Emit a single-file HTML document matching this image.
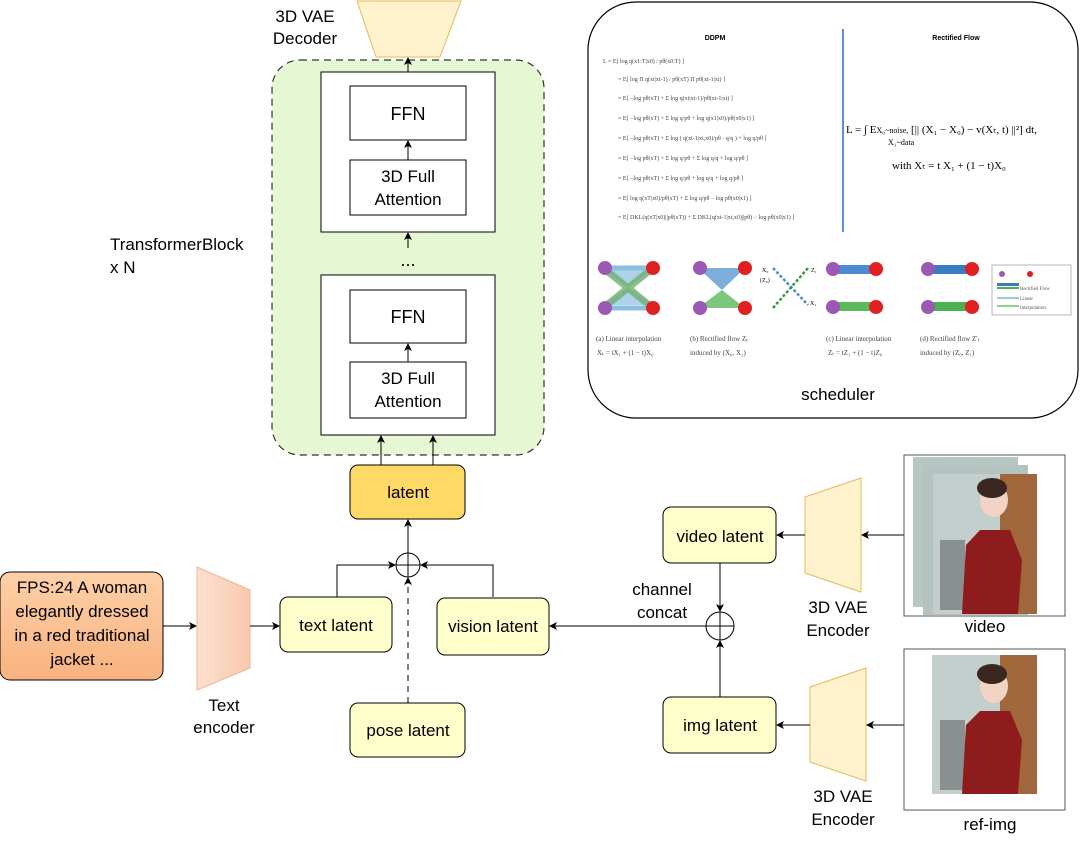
<!DOCTYPE html>
<html><head><meta charset="utf-8"><style>
html,body{margin:0;padding:0;background:#fff;}
svg text{font-family:"Liberation Sans",Arial,sans-serif;}
svg .serif text, svg text.serif{font-family:"Liberation Serif",serif;}
</style></head><body>
<svg width="1080" height="839" viewBox="0 0 1080 839" xmlns="http://www.w3.org/2000/svg">
<defs>
<marker id="a" markerWidth="8" markerHeight="8" refX="7" refY="4" orient="auto" markerUnits="userSpaceOnUse"><path d="M0,0 L8,4 L0,8 L2,4z" fill="#000"/></marker>
<linearGradient id="fps" x1="0" y1="0" x2="0" y2="1"><stop offset="0" stop-color="#FFD0A8"/><stop offset="1" stop-color="#F8B27F"/></linearGradient>
<linearGradient id="te" x1="0" y1="0" x2="1" y2="0"><stop offset="0" stop-color="#FCE0D0"/><stop offset="1" stop-color="#F9C9AE"/></linearGradient>
</defs>

<!-- decoder -->
<polygon points="357,1 461,1 440,57 376,57" fill="#FFF2CC" stroke="#E6B95A" stroke-width="1"/>
<text x="305" y="22" font-size="17" text-anchor="middle">3D VAE</text>
<text x="305" y="44" font-size="17" text-anchor="middle">Decoder</text>

<!-- green container -->
<rect x="272" y="60" width="272" height="395" rx="28" fill="#E6F7D4" stroke="#333" stroke-dasharray="7,5" stroke-width="1.2"/>
<rect x="321" y="72" width="174" height="160" fill="#fff" stroke="#000"/>
<rect x="350" y="86" width="116" height="54" fill="#fff" stroke="#000"/>
<text x="408" y="120" font-size="18" text-anchor="middle">FFN</text>
<rect x="350" y="160" width="116" height="55" fill="#fff" stroke="#000"/>
<text x="408" y="182" font-size="17" text-anchor="middle">3D Full</text>
<text x="408" y="205" font-size="17" text-anchor="middle">Attention</text>
<line x1="408" y1="160" x2="408" y2="141" stroke="#000" marker-end="url(#a)"/>
<text x="408" y="266" font-size="18" text-anchor="middle">...</text>
<line x1="408" y1="248" x2="408" y2="233" stroke="#000" marker-end="url(#a)"/>
<line x1="408" y1="72" x2="408" y2="58" stroke="#000" marker-end="url(#a)"/>
<rect x="321" y="275" width="174" height="160" fill="#fff" stroke="#000"/>
<rect x="350" y="290" width="116" height="53" fill="#fff" stroke="#000"/>
<text x="408" y="323" font-size="18" text-anchor="middle">FFN</text>
<rect x="350" y="362" width="116" height="56" fill="#fff" stroke="#000"/>
<text x="408" y="384" font-size="17" text-anchor="middle">3D Full</text>
<text x="408" y="407" font-size="17" text-anchor="middle">Attention</text>
<line x1="408" y1="362" x2="408" y2="344" stroke="#000" marker-end="url(#a)"/>
<text x="110" y="250" font-size="17">TransformerBlock</text>
<text x="110" y="273" font-size="17">x N</text>

<!-- latent -->
<line x1="381" y1="465" x2="381" y2="436" stroke="#000" marker-end="url(#a)"/>
<line x1="433" y1="465" x2="433" y2="436" stroke="#000" marker-end="url(#a)"/>
<rect x="350" y="465" width="115" height="54" rx="8" fill="#FFD966" stroke="#000"/>
<text x="408" y="498" font-size="17" text-anchor="middle">latent</text>
<line x1="408" y1="553" x2="408" y2="520" stroke="#000" marker-end="url(#a)"/>
<circle cx="408" cy="565" r="12" fill="#fff" stroke="#000"/>
<line x1="396" y1="565" x2="420" y2="565" stroke="#000"/>
<line x1="408" y1="553" x2="408" y2="577" stroke="#000"/>
<polyline points="337,597 337,565 395,565" fill="none" stroke="#000" marker-end="url(#a)"/>
<polyline points="493,597 493,565 421,565" fill="none" stroke="#000" marker-end="url(#a)"/>
<line x1="408" y1="703" x2="408" y2="578" stroke="#000" stroke-dasharray="6,5" marker-end="url(#a)"/>

<rect x="280" y="597" width="112" height="55" rx="8" fill="#FFFFCC" stroke="#000"/>
<text x="336" y="631" font-size="17" text-anchor="middle">text latent</text>
<rect x="437" y="598" width="112" height="57" rx="8" fill="#FFFFCC" stroke="#000"/>
<text x="493" y="632" font-size="17" text-anchor="middle">vision latent</text>
<rect x="350" y="703" width="115" height="54" rx="8" fill="#FFFFCC" stroke="#000"/>
<text x="408" y="736" font-size="17" text-anchor="middle">pose latent</text>

<!-- FPS -->
<rect x="0" y="572" width="163" height="108" rx="10" fill="url(#fps)" stroke="#000"/>
<text x="82" y="593" font-size="17" text-anchor="middle">FPS:24  A woman</text>
<text x="82" y="617" font-size="17" text-anchor="middle">elegantly dressed</text>
<text x="82" y="641" font-size="17" text-anchor="middle">in a red traditional</text>
<text x="82" y="665" font-size="17" text-anchor="middle">jacket ...</text>
<line x1="163" y1="626" x2="196" y2="626" stroke="#000" marker-end="url(#a)"/>
<polygon points="197,567 250,590 250,668 197,690" fill="url(#te)" stroke="#F2B48E"/>
<line x1="250" y1="626" x2="279" y2="626" stroke="#000" marker-end="url(#a)"/>
<text x="224" y="711" font-size="17" text-anchor="middle">Text</text>
<text x="224" y="733" font-size="17" text-anchor="middle">encoder</text>

<!-- right side -->
<rect x="663" y="507" width="113" height="56" rx="8" fill="#FFFFCC" stroke="#000"/>
<text x="720" y="542" font-size="17" text-anchor="middle">video latent</text>
<rect x="663" y="697" width="113" height="56" rx="8" fill="#FFFFCC" stroke="#000"/>
<text x="720" y="731" font-size="17" text-anchor="middle">img latent</text>
<line x1="720" y1="563" x2="720" y2="611" stroke="#000" marker-end="url(#a)"/>
<line x1="720" y1="697" x2="720" y2="641" stroke="#000" marker-end="url(#a)"/>
<circle cx="720" cy="626" r="14" fill="#fff" stroke="#000"/>
<line x1="706" y1="626" x2="734" y2="626" stroke="#000"/>
<line x1="720" y1="612" x2="720" y2="640" stroke="#000"/>
<line x1="706" y1="626" x2="550" y2="626" stroke="#000" marker-end="url(#a)"/>
<text x="662" y="595" font-size="17" text-anchor="middle">channel</text>
<text x="662" y="618" font-size="17" text-anchor="middle">concat</text>

<polygon points="805,497 861,478 861,592 805,573" fill="#FFF2CC" stroke="#E6B95A"/>
<polygon points="810,687 866,668 866,781 810,762" fill="#FFF2CC" stroke="#E6B95A"/>
<line x1="805" y1="535" x2="777" y2="535" stroke="#000" marker-end="url(#a)"/>
<line x1="904" y1="535" x2="862" y2="535" stroke="#000" marker-end="url(#a)"/>
<line x1="810" y1="725" x2="777" y2="725" stroke="#000" marker-end="url(#a)"/>
<line x1="933" y1="725" x2="867" y2="725" stroke="#000" marker-end="url(#a)"/>
<text x="838" y="613" font-size="17" text-anchor="middle">3D VAE</text>
<text x="838" y="636" font-size="17" text-anchor="middle">Encoder</text>
<text x="843" y="802" font-size="17" text-anchor="middle">3D VAE</text>
<text x="843" y="825" font-size="17" text-anchor="middle">Encoder</text>

<!-- video image -->
<rect x="904" y="455" width="161" height="161" fill="#fff" stroke="#555"/>
<rect x="913" y="457" width="105" height="150" fill="#B9C7C4"/>
<rect x="923" y="465" width="105" height="150" fill="#B5C3C0"/>
<rect x="933" y="474" width="104" height="140" fill="#C3CFCD"/>
<rect x="1000" y="474" width="37" height="140" fill="#A0663C"/>
<rect x="940" y="540" width="25" height="70" fill="#8A9090"/>
<ellipse cx="994" cy="500" rx="14" ry="17" fill="#F1D4C4"/>
<ellipse cx="992" cy="488" rx="15" ry="10" fill="#3A2720"/>
<path d="M962,614 L966,545 L980,530 L1010,530 L1022,560 L1018,614z" fill="#8E1C1C"/>
<text x="985" y="632" font-size="17" text-anchor="middle">video</text>

<!-- ref image -->
<rect x="904" y="649" width="161" height="161" fill="#fff" stroke="#555"/>
<rect x="932" y="655" width="105" height="139" fill="#C3CFCD"/>
<rect x="1000" y="655" width="37" height="139" fill="#A0663C"/>
<rect x="940" y="720" width="25" height="70" fill="#8A9090"/>
<ellipse cx="994" cy="686" rx="14" ry="17" fill="#F1D4C4"/>
<ellipse cx="992" cy="674" rx="15" ry="10" fill="#3A2720"/>
<path d="M962,794 L966,725 L980,711 L1010,711 L1022,740 L1018,794z" fill="#8E1C1C"/>
<text x="990" y="830" font-size="17" text-anchor="middle">ref-img</text>

<!-- scheduler panel -->
<rect x="588" y="2" width="490" height="416" rx="48" fill="#fff" stroke="#000" stroke-width="1.2"/>
<text x="715" y="40" font-size="7" font-weight="bold" text-anchor="middle">DDPM</text>
<text x="956" y="40" font-size="7" font-weight="bold" text-anchor="middle">Rectified Flow</text>
<line x1="843" y1="29" x2="843" y2="232" stroke="#5B8FD9" stroke-width="2"/>
<g class="serif" font-size="6" fill="#444">
<text x="603" y="63">L = E[ log q(x1:T|x0) / pθ(x0:T) ]</text>
<text x="618" y="81">= E[ log Π q(xt|xt-1) / pθ(xT) Π pθ(xt-1|xt) ]</text>
<text x="618" y="100">= E[ −log pθ(xT) + Σ log q(xt|xt-1)/pθ(xt-1|xt) ]</text>
<text x="618" y="120">= E[ −log pθ(xT) + Σ log q/pθ + log q(x1|x0)/pθ(x0|x1) ]</text>
<text x="618" y="140">= E[ −log pθ(xT) + Σ log ( q(xt-1|xt,x0)/pθ · q/q ) + log q/pθ ]</text>
<text x="618" y="160">= E[ −log pθ(xT) + Σ log q/pθ + Σ log q/q + log q/pθ ]</text>
<text x="618" y="180">= E[ −log pθ(xT) + Σ log q/pθ + log q/q + log q/pθ ]</text>
<text x="618" y="200">= E[ log q(xT|x0)/pθ(xT) + Σ log q/pθ − log pθ(x0|x1) ]</text>
<text x="618" y="219">= E[ DKL(q(xT|x0)||pθ(xT)) + Σ DKL(q(xt-1|xt,x0)||pθ) − log pθ(x0|x1) ]</text>
</g>
<text class="serif" x="846" y="133" font-size="11">L = ∫ E<tspan font-size="8">X₀~noise,</tspan> [|| (X₁ − X₀) − v(Xₜ, t) ||²] dt,</text>
<text class="serif" x="888" y="145" font-size="8">X₁~data</text>
<text class="serif" x="892" y="169" font-size="11">with Xₜ = t X₁ + (1 − t)X₀</text>

<!-- flow figures -->
<g>
<polygon points="603,270 653,270 603,305 653,305" fill="#9CC7E4" opacity="0.8"/>
<path d="M603,268 L653,308 M603,308 L653,268" stroke="#6FB06F" stroke-width="7" opacity="0.8"/>
<path d="M603,268 L653,268 M603,308 L653,308" stroke="#8BBFE0" stroke-width="5"/>
<circle cx="605" cy="268" r="7" fill="#9B59B6"/><circle cx="653" cy="268" r="7" fill="#E02020"/>
<circle cx="605" cy="308" r="7" fill="#9B59B6"/><circle cx="653" cy="308" r="7" fill="#E02020"/>

<path d="M698,268 L745,268 L722,290 z" fill="#5A9BD0" opacity="0.8"/>
<path d="M698,308 L745,308 L722,290 z" fill="#5CB85C" opacity="0.8"/>
<circle cx="700" cy="268" r="7" fill="#9B59B6"/><circle cx="745" cy="268" r="7" fill="#E02020"/>
<circle cx="700" cy="308" r="7" fill="#9B59B6"/><circle cx="745" cy="308" r="7" fill="#E02020"/>

<path d="M773,268 L808,305" stroke="#4C8BD0" stroke-width="2.5" stroke-dasharray="3,2"/>
<path d="M773,308 L808,268" stroke="#3A9A3A" stroke-width="2.5" stroke-dasharray="3,2"/>
<text class="serif" x="762" y="272" font-size="6">X₀</text>
<text class="serif" x="760" y="282" font-size="6">(Z₀)</text>
<text class="serif" x="811" y="272" font-size="6">Z₁</text>
<text class="serif" x="810" y="305" font-size="6">X₁</text>

<rect x="830" y="265" width="45" height="9" fill="#4C8BD0"/>
<rect x="830" y="302" width="45" height="9" fill="#5CB85C"/>
<circle cx="833" cy="269" r="7" fill="#9B59B6"/><circle cx="876" cy="269" r="7" fill="#E02020"/>
<circle cx="833" cy="307" r="7" fill="#9B59B6"/><circle cx="876" cy="307" r="7" fill="#E02020"/>
<rect x="924" y="265" width="45" height="9" fill="#3A7CC0"/>
<rect x="924" y="302" width="45" height="9" fill="#4CAF50"/>
<circle cx="928" cy="269" r="7" fill="#9B59B6"/><circle cx="972" cy="269" r="7" fill="#E02020"/>
<circle cx="928" cy="307" r="7" fill="#9B59B6"/><circle cx="972" cy="307" r="7" fill="#E02020"/>

<rect x="992" y="265" width="79" height="50" fill="#fff" stroke="#999" stroke-width="0.7"/>
<circle cx="1002" cy="274" r="3" fill="#9B59B6"/><circle cx="1030" cy="274" r="3" fill="#E02020"/>
<rect x="997" y="283" width="22" height="3" fill="#3A7CC0"/><rect x="997" y="287" width="22" height="2" fill="#4CAF50"/>
<rect x="997" y="297" width="22" height="2" fill="#9CC7E4"/><rect x="997" y="305" width="22" height="2" fill="#8BD08B"/>
<g class="serif" font-size="5" fill="#555">
<text x="1020" y="290">Rectified Flow</text><text x="1020" y="300">Linear</text><text x="1020" y="309">Interpolation</text>
</g>
</g>
<g class="serif" font-size="7" fill="#444">
<text x="596" y="341">(a) Linear interpolation</text>
<text x="597" y="355">Xₜ = tX₁ + (1 − t)X₀</text>
<text x="690" y="341">(b) Rectified flow Zₜ</text>
<text x="690" y="355">induced by (X₀, X₁)</text>
<text x="826" y="341">(c) Linear interpolation</text>
<text x="828" y="355">Zₜ = tZ₁ + (1 − t)Z₀</text>
<text x="920" y="341">(d) Rectified flow Z′ₜ</text>
<text x="920" y="355">induced by (Z₀, Z₁)</text>
</g>
<text x="838" y="400" font-size="17" text-anchor="middle">scheduler</text>
</svg>
</body></html>
